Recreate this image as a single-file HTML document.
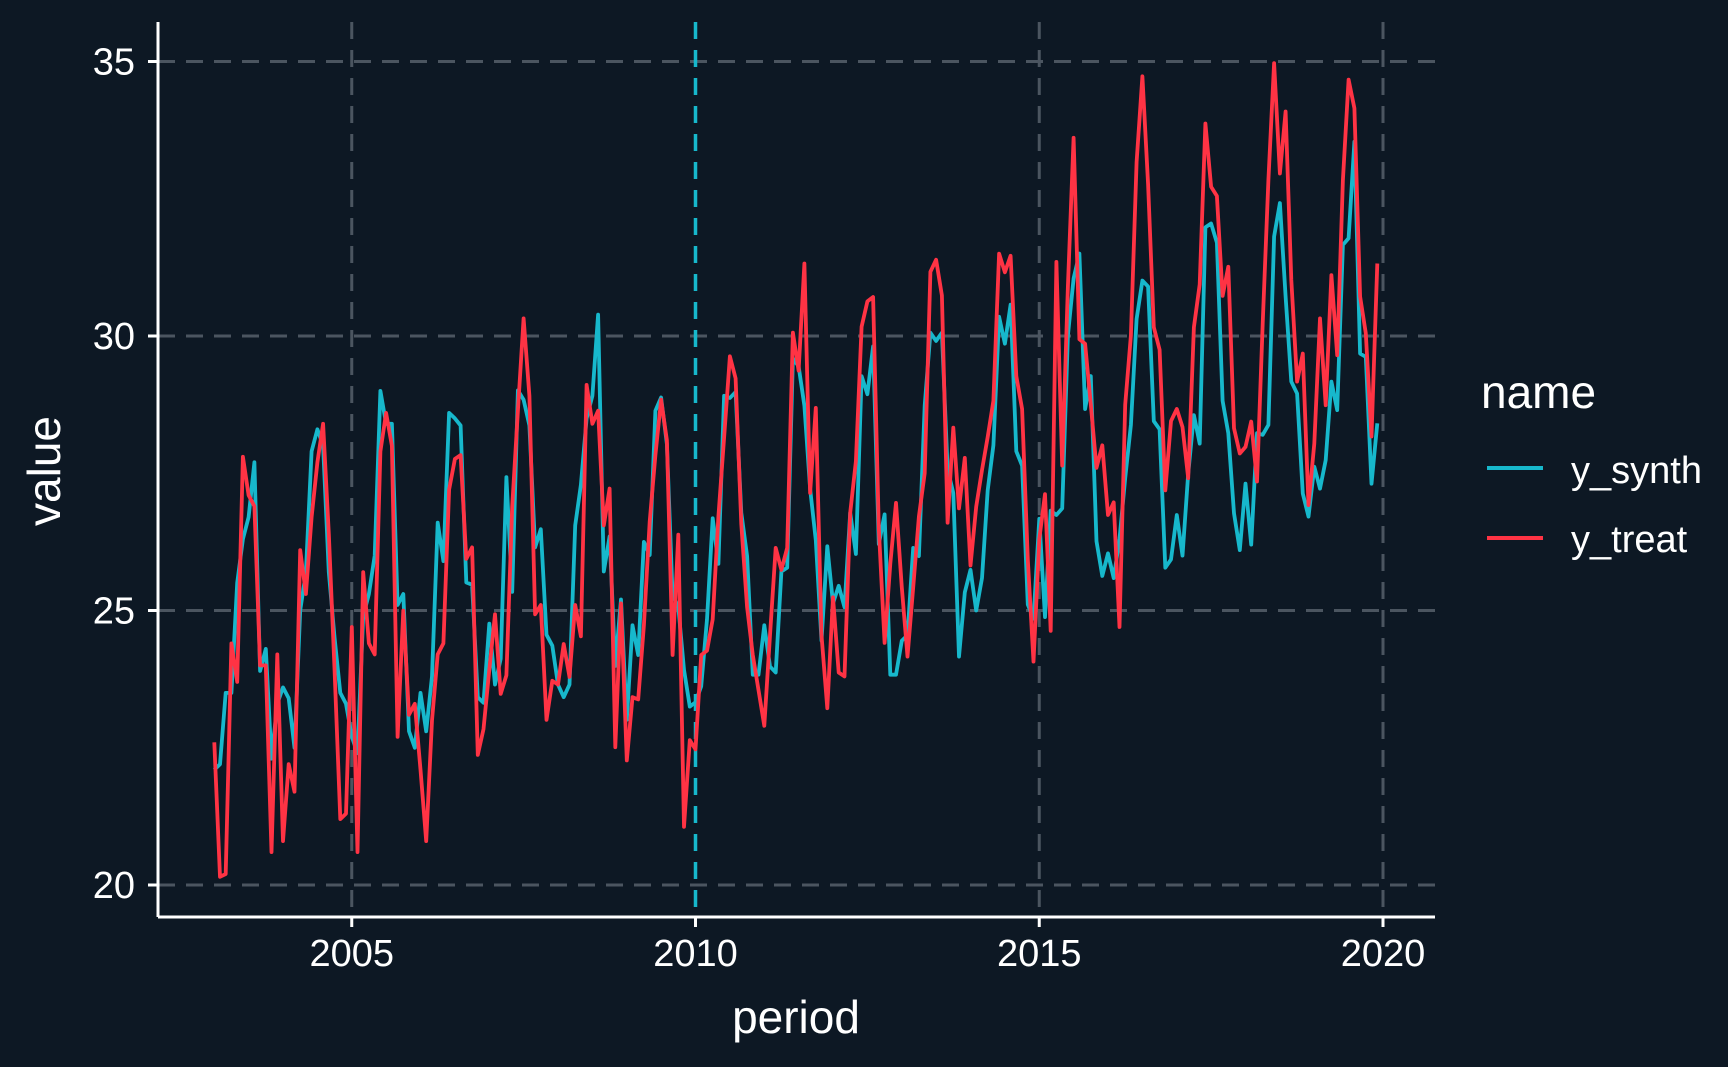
<!DOCTYPE html>
<html><head><meta charset="utf-8">
<style>
html,body{margin:0;padding:0;background:#0d1824;}
svg{display:block;font-family:"Liberation Sans",Arial,sans-serif;}
</style></head>
<body>
<svg id="chart" width="1728" height="1067" viewBox="0 0 1728 1067" xmlns="http://www.w3.org/2000/svg">
<rect x="0" y="0" width="1728" height="1067" fill="#0d1824"/>
<g id="grid"></g>
<g id="series"></g>
<g id="axes"></g>
<text x="796" y="1033" font-size="46" fill="#ffffff" text-anchor="middle">period</text>
<text x="0" y="0" font-size="46" fill="#ffffff" text-anchor="middle" transform="translate(60,471) rotate(-90)">value</text>
<g>
<text x="1481" y="408" font-size="46" fill="#ffffff">name</text>
<line x1="1487" y1="468" x2="1543" y2="468" stroke="#17b8cc" stroke-width="4"/>
<text x="1571" y="483" font-size="38" fill="#ffffff">y_synth</text>
<line x1="1487" y1="538" x2="1543" y2="538" stroke="#ff3344" stroke-width="4"/>
<text x="1571" y="552" font-size="38" fill="#ffffff">y_treat</text>
</g>
</svg>
<script>
const startYear = 2003;
const xTicks = [2005, 2010, 2015, 2020];
const yTicks = [20, 25, 30, 35];
const treatmentYear = 2010;
const ySynth = [22.1,22.2,23.5,23.5,25.5,26.3,26.7,27.7,23.9,24.3,22.3,23.3,23.6,23.4,22.5,25.0,25.7,27.9,28.3,28.0,25.7,24.5,23.5,23.3,22.7,22.4,24.9,25.3,26.0,29.0,28.4,28.4,25.1,25.3,22.8,22.5,23.5,22.8,23.8,26.6,25.9,28.6,
28.50,28.37,25.51,25.47,23.42,23.32,24.76,23.65,24.12,27.43,25.34,29.01,28.84,28.37,26.15,26.48,24.56,24.36,23.65,23.42,23.65,26.55,27.29,28.50,28.91,30.39,25.71,26.35,23.99,25.20,23.01,24.73,24.19,26.25,26.01,28.64,28.88,28.03,25.27,25.07,23.92,23.25,
23.33,23.62,24.84,26.68,25.85,28.91,28.87,28.98,26.78,25.99,23.83,23.83,24.73,23.98,23.87,25.71,25.78,29.59,29.45,28.73,27.22,26.28,24.45,26.17,25.13,25.45,25.06,26.78,26.03,29.27,28.94,29.81,26.21,26.75,23.83,23.83,24.45,24.55,26.14,25.99,28.73,30.06,29.91,30.06,27.58,27.14,24.16,
25.33,25.74,25.00,25.59,27.19,28.01,30.35,29.86,30.57,27.90,27.64,25.11,24.85,26.67,24.88,26.82,26.74,26.86,30.01,31.05,31.50,28.67,29.27,26.26,25.63,26.04,25.59,26.30,27.41,28.38,30.31,31.01,30.90,28.45,28.30,25.78,25.93,26.74,26.00,27.49,28.56,28.04,31.98,32.05,31.7,28.82,
28.23,26.77,26.1,27.31,26.2,28.23,28.20,28.38,31.81,32.42,30.72,29.17,28.95,27.13,26.71,27.62,27.22,27.74,29.17,28.65,31.66,31.78,33.54,29.68,29.62,27.31,28.41];
const yTreat = [22.6,20.15,20.2,24.4,23.7,27.8,27.1,26.9,24.0,24.0,20.6,24.2,20.8,22.2,21.7,26.1,25.3,26.7,27.7,28.4,26.4,23.9,21.2,21.3,24.7,20.6,25.7,24.4,24.2,27.9,28.6,28.0,22.7,25.0,23.1,23.3,22.1,20.8,23.0,24.2,24.4,27.2,
27.76,27.83,25.94,26.15,22.37,22.84,23.92,24.93,23.48,23.82,26.89,28.64,30.32,28.91,24.93,25.10,23.01,23.72,23.65,24.39,23.79,25.10,24.53,29.11,28.40,28.64,26.55,27.22,22.51,25.13,22.27,23.42,23.38,24.73,26.62,27.83,28.84,28.10,24.19,26.38,21.06,22.64,
22.47,24.19,24.27,24.84,26.71,28.15,29.63,29.23,26.57,25.06,24.19,23.55,22.90,24.55,26.14,25.74,26.14,30.06,29.37,31.32,27.14,28.69,24.55,23.22,25.24,23.87,23.80,26.78,27.72,30.17,30.63,30.71,26.50,24.41,25.85,26.96,25.42,24.16,25.42,26.71,27.50,31.17,31.39,30.74,26.60,28.33,26.86,
27.78,25.82,26.89,27.56,28.16,28.82,31.50,31.16,31.46,29.27,28.67,25.93,24.07,26.30,27.12,24.63,31.35,27.64,30.90,33.61,29.94,29.86,28.75,27.60,28.01,26.74,26.97,24.70,28.75,30.01,33.17,34.73,32.76,30.16,29.75,27.19,28.45,28.67,28.34,27.41,30.16,30.94,33.87,32.72,32.55,30.73,
31.26,28.32,27.86,27.98,28.44,27.35,30.23,32.84,34.97,32.96,34.09,31.02,29.17,29.68,26.92,28.04,30.32,28.74,31.11,29.65,32.84,34.67,34.15,30.72,30.05,28.17,31.32];

const NS = "http://www.w3.org/2000/svg";
const panel = {left:158, right:1435, top:22, bottom:917};
function xScale(year){ return 1383 - (2020 - year) * 68.75; }
function yScale(v){ return 885 - (v - 20) * 54.9; }
function mk(tag, attrs, parent){ const e = document.createElementNS(NS, tag); for (const k in attrs) e.setAttribute(k, attrs[k]); parent.appendChild(e); return e; }

const grid = document.getElementById('grid');
yTicks.forEach(t => {
  const l = mk('line', {x1:panel.left, x2:panel.right, y1:yScale(t), y2:yScale(t), stroke:'#4b5560', 'stroke-width':3, 'stroke-dasharray':'17 11'}, grid);
  
  
});
xTicks.forEach(t => {
  const l = mk('line', {x1:xScale(t), x2:xScale(t), y1:panel.top, y2:panel.bottom, stroke:'#4b5560', 'stroke-width':3, 'stroke-dasharray':'17 11'}, grid);
  
  
});
const tl = mk('line', {x1:xScale(treatmentYear), x2:xScale(treatmentYear), y1:panel.top, y2:panel.bottom, stroke:'#17b8cc', 'stroke-width':3.5, 'stroke-dasharray':'17 11'}, grid);



const series = document.getElementById('series');
function path(vals){ return vals.map((v,i) => (i?'L':'M') + xScale(startYear + i/12).toFixed(1) + ',' + yScale(v).toFixed(1)).join(''); }
const ps = mk('path', {d:path(ySynth), fill:'none', stroke:'#17b8cc', 'stroke-width':3.8, 'stroke-linejoin':'round'}, series);


const pt = mk('path', {d:path(yTreat), fill:'none', stroke:'#ff3344', 'stroke-width':3.8, 'stroke-linejoin':'round'}, series);



const axes = document.getElementById('axes');
const xa = mk('line', {x1:panel.left, x2:panel.right, y1:panel.bottom, y2:panel.bottom, stroke:'#ffffff', 'stroke-width':3}, axes);


const ya = mk('line', {x1:panel.left, x2:panel.left, y1:panel.top, y2:panel.bottom, stroke:'#ffffff', 'stroke-width':3}, axes);


xTicks.forEach(t => {
  const tk = mk('line', {x1:xScale(t), x2:xScale(t), y1:panel.bottom, y2:panel.bottom+10, stroke:'#ffffff', 'stroke-width':3}, axes);
  
  
  const tx = mk('text', {x:xScale(t), y:966, 'font-size':38, fill:'#ffffff', 'text-anchor':'middle'}, axes);
  tx.textContent = String(t);
  
  
});
yTicks.forEach(t => {
  const tk = mk('line', {x1:panel.left-10, x2:panel.left, y1:yScale(t), y2:yScale(t), stroke:'#ffffff', 'stroke-width':3}, axes);
  
  
  const tx = mk('text', {x:135, y:yScale(t)+13, 'font-size':38, fill:'#ffffff', 'text-anchor':'end'}, axes);
  tx.textContent = String(t);
  
  
});
</script>
</body></html>
